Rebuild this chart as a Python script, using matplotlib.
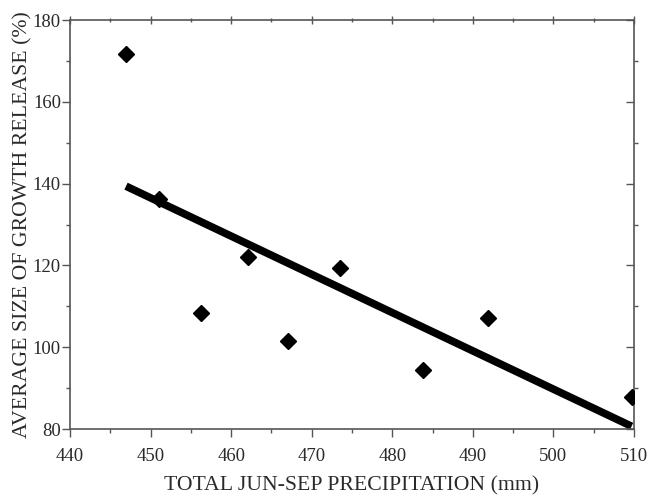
import numpy as np
from matplotlib import pyplot as plt
from matplotlib.ticker import MultipleLocator

# values
precip = [446.95, 451.1, 456.3, 462.1, 467.1, 473.5, 483.8, 491.9, 509.7]
release = [171.6, 136.3, 108.4, 122.1, 101.4, 119.4, 94.4, 107.1, 87.9]

plt.rcParams['font.family'] = ['Liberation Serif', 'DejaVu Serif']
ink = '#2a2a2a'

fig = plt.figure(figsize=(6.54, 4.96), dpi=100)
ax = fig.add_axes([70/654, 1-429/496, 564/654, 409/496])

x = np.array(precip)
y = np.array(release)
slope, icpt = np.polyfit(x, y, 1)
fx = np.array([x.min(), x.max()])
ax.plot(fx, slope*fx + icpt, color='black', lw=5.5, solid_capstyle='butt', zorder=2)
ax.plot(x, y, 'D', color='black', ms=8.5, zorder=3)

ax.set_xlim(440, 510)
ax.set_ylim(80, 180)
ax.xaxis.set_major_locator(MultipleLocator(10))
ax.xaxis.set_minor_locator(MultipleLocator(5))
ax.yaxis.set_major_locator(MultipleLocator(20))
ax.yaxis.set_minor_locator(MultipleLocator(10))

for s in ax.spines.values():
    s.set_color('#555555')
    s.set_linewidth(1.2)

ax.tick_params(which='both', colors='#555555', labelcolor=ink, labelsize=13.5, width=1)
ax.tick_params(which='major', length=5.5, pad=1)
ax.tick_params(which='minor', length=3)
ax.tick_params(axis='x', which='both', direction='out', pad=8)
ax.tick_params(axis='y', which='both', direction='out')
# top and right: ticks only, no labels
ax.tick_params(axis='x', which='both', top=True, labeltop=False)
ax.tick_params(axis='y', which='both', right=True, labelright=False)
for t in ax.xaxis.get_major_ticks() + ax.xaxis.get_minor_ticks():
    t.tick2line.set_marker('|')
for t in ax.yaxis.get_major_ticks():
    t.tick2line.set_marker(0)

ax.set_xlabel('TOTAL JUN-SEP PRECIPITATION (mm)', fontsize=15.7, color=ink, labelpad=8)
ax.set_ylabel('AVERAGE SIZE OF GROWTH RELEASE (%)', fontsize=15.7, color=ink, labelpad=0)

plt.savefig('out.png', dpi=100)
